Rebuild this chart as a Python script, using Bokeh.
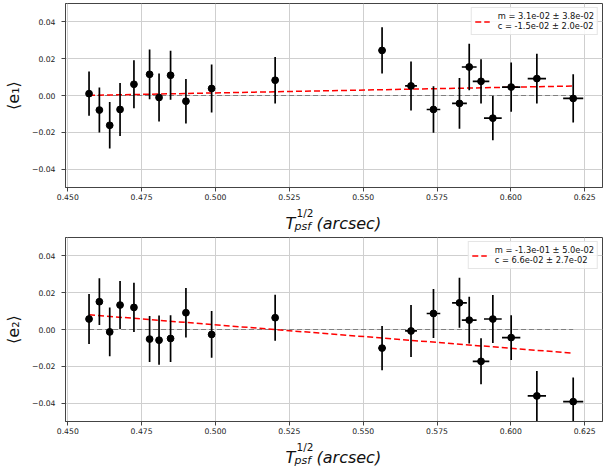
import numpy as np
from bokeh.plotting import figure
from bokeh.layouts import column
from bokeh.models import (ColumnDataSource, FixedTicker, CustomJSTickFormatter, Label,
                          Legend, LegendItem, Range1d)
from bokeh.embed import file_html
from bokeh.resources import INLINE

# ---------------- data ----------------
x_bin = [0.4572, 0.4607, 0.4642, 0.4677, 0.4724, 0.4777, 0.4809, 0.4848, 0.4900, 0.4987,
         0.5202, 0.5564, 0.5662, 0.5738, 0.5826, 0.5859, 0.5899, 0.5939, 0.6001, 0.6088, 0.6211]
x_err = [0.0006, 0.0006, 0.0006, 0.0008, 0.0008, 0.0008, 0.0008, 0.0008, 0.0010, 0.0010,
         0.0010, 0.0012, 0.0020, 0.0023, 0.0025, 0.0025, 0.0028, 0.0030, 0.0031, 0.0031, 0.0034]

e1 = [0.0010, -0.0079, -0.0162, -0.0076, 0.0061, 0.0115, -0.0011, 0.0110, -0.0031, 0.0038,
      0.0083, 0.0245, 0.0052, -0.0076, -0.0043, 0.0155, 0.0077, -0.0123, 0.0046, 0.0092, -0.0016]
e1_err = [0.0120, 0.0122, 0.0126, 0.0144, 0.0130, 0.0135, 0.0130, 0.0133, 0.0121, 0.0130,
          0.0126, 0.0126, 0.0133, 0.0126, 0.0138, 0.0126, 0.0120, 0.0120, 0.0134, 0.0135, 0.0131]

e2 = [0.0057, 0.0151, -0.0013, 0.0133, 0.0120, -0.0052, -0.0058, -0.0049, 0.0091, -0.0027,
      0.0064, -0.0101, -0.0008, 0.0087, 0.0145, 0.0051, -0.0173, 0.0057, -0.0044, -0.0361, -0.0392]
e2_err = [0.0136, 0.0127, 0.0133, 0.0130, 0.0134, 0.0125, 0.0134, 0.0127, 0.0134, 0.0127,
          0.0125, 0.0120, 0.0141, 0.0133, 0.0136, 0.0127, 0.0125, 0.0130, 0.0122, 0.0136, 0.0131]

# fit parameters printed in the legends
fit1_text = ["m = 3.1e-02 \u00b1 3.8e-02", "c = -1.5e-02 \u00b1 2.0e-02"]
fit2_text = ["m = -1.3e-01 \u00b1 5.0e-02", "c = 6.6e-02 \u00b1 2.7e-02"]
# drawn fit lines (slope, intercept) as seen in the picture
fit1_line = [0.031, -0.0141]
fit2_line = [-0.1275, 0.0663]

x_ticks = [0.450, 0.475, 0.500, 0.525, 0.550, 0.575, 0.600, 0.625]
y_ticks = [-0.04, -0.02, 0.0, 0.02, 0.04]

FONT = "DejaVu Sans"


def make_panel(y, yerr, ylabel, legend_lines, line_params):
    p = figure(width=605, height=203, output_backend="svg", toolbar_location=None,
               x_range=Range1d(0.44923, 0.63102), y_range=Range1d(-0.05, 0.05),
               min_border_left=61, min_border_right=3, min_border_top=3, min_border_bottom=16)
    p.background_fill_color = "white"
    p.border_fill_color = "white"
    p.outline_line_color = "#444444"
    p.outline_line_width = 1

    # grid
    for g in (p.xgrid, p.ygrid):
        g.grid_line_color = "#cfcfcf"
        g.grid_line_width = 1
    p.xgrid.ticker = FixedTicker(ticks=x_ticks)
    p.ygrid.ticker = FixedTicker(ticks=y_ticks)

    # axes
    p.xaxis.ticker = FixedTicker(ticks=x_ticks)
    p.yaxis.ticker = FixedTicker(ticks=y_ticks)
    p.xaxis.formatter = CustomJSTickFormatter(code="return tick.toFixed(3);")
    p.yaxis.formatter = CustomJSTickFormatter(
        code="return (tick < -1e-9 ? '\\u2212' : '') + Math.abs(tick).toFixed(2);")
    for ax in (p.xaxis, p.yaxis):
        ax.axis_line_color = "#444444"
        ax.major_tick_line_color = "#444444"
        ax.major_tick_out = 4
        ax.major_tick_in = 0
        ax.minor_tick_line_color = None
        ax.major_label_text_font = FONT
        ax.major_label_text_font_size = "7.7px"
        ax.major_label_text_color = "#222222"
    p.xaxis.major_label_standoff = 2
    p.yaxis.major_label_standoff = 6
    p.xaxis.axis_label = None
    p.yaxis.axis_label = ylabel
    p.yaxis.axis_label_text_font = FONT
    p.yaxis.axis_label_text_font_size = "16px"
    p.yaxis.axis_label_text_font_style = "normal"
    p.yaxis.axis_label_text_color = "#111111"
    p.yaxis.axis_label_standoff = 6

    # reference line at zero
    p.line(x=[x_bin[0], x_bin[-1]], y=[0.0, 0.0], line_color="#7f7f7f",
           line_width=1.2, line_dash="5 3")

    # fit line
    xs = np.array([x_bin[0], x_bin[-1]])
    ys = line_params[0] * xs + line_params[1]
    fit = p.line(x=xs, y=ys, line_color="red", line_width=1.5, line_dash="6 3")

    # error bars
    ya = np.array(y)
    ye = np.array(yerr)
    xa = np.array(x_bin)
    xe = np.array(x_err)
    src = ColumnDataSource(dict(x=xa, y=ya, y0=ya - ye, y1=ya + ye, x0=xa - xe, x1=xa + xe))
    p.segment(x0="x", y0="y0", x1="x", y1="y1", source=src, line_color="black", line_width=1.7)
    p.segment(x0="x0", y0="y", x1="x1", y1="y", source=src, line_color="black", line_width=1.7)
    p.scatter(x="x", y="y", source=src, marker="circle", size=6.8,
              fill_color="black", line_color="black")

    # legend
    legend = Legend(items=[LegendItem(label="\n".join(legend_lines), renderers=[fit])],
                    location="top_right")
    legend.margin = 4
    legend.padding = 3
    legend.spacing = 0
    legend.label_standoff = 8
    legend.glyph_width = 15
    legend.glyph_height = 19
    legend.label_height = 19
    legend.label_text_font = FONT
    legend.label_text_font_size = "8.3px"
    legend.label_text_color = "#111111"
    legend.border_line_color = "#cccccc"
    legend.border_line_width = 1
    legend.background_fill_alpha = 0.85
    p.add_layout(legend)
    return p


def make_xtitle():
    """Strip under a panel holding the x axis title T_psf^{1/2}(arcsec).
    Its frame is aligned with the panel frame above (left edge at 61 px)."""
    t = figure(width=605, height=31, output_backend="svg", toolbar_location=None,
               x_axis_type=None, y_axis_type=None,
               x_range=Range1d(0, 541), y_range=Range1d(0, 31),
               min_border_left=0, min_border_right=0, min_border_top=0, min_border_bottom=0)
    t.outline_line_color = None
    t.background_fill_color = "white"
    t.border_fill_color = "white"
    common = dict(x_units="screen", y_units="screen", text_font=FONT,
                  text_color="#111111", text_align="left", text_baseline="alphabetic")
    t.add_layout(Label(x=220, y=11, text="T", text_font_size="16px",
                       text_font_style="italic", **common))
    t.add_layout(Label(x=231, y=21.5, text="1/2", text_font_size="10.5px",
                       text_font_style="normal", **common))
    t.add_layout(Label(x=229, y=8.5, text="psf", text_font_size="11px",
                       text_font_style="italic", **common))
    t.add_layout(Label(x=251, y=11, text="(arcsec)", text_font_size="16px",
                       text_font_style="italic", **common))
    return t


p1 = make_panel(e1, e1_err, "\u27e8e\u2081\u27e9", fit1_text, fit1_line)
p2 = make_panel(e2, e2_err, "\u27e8e\u2082\u27e9", fit2_text, fit2_line)

layout = column(p1, make_xtitle(), p2, make_xtitle(), spacing=0)
open("out.html", "w").write(file_html(layout, INLINE))
